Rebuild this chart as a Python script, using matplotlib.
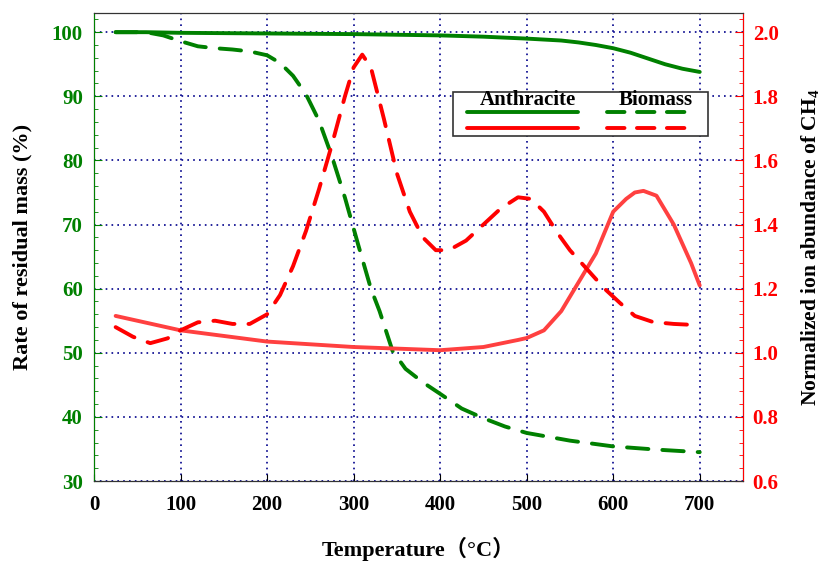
import numpy as np
import matplotlib.pyplot as plt
from matplotlib.lines import Line2D
from matplotlib.patches import Rectangle
from matplotlib.ticker import MultipleLocator

plt.rcParams['font.family'] = ['Liberation Serif', 'Noto Sans CJK SC']
plt.rcParams['mathtext.fontset'] = 'custom'
plt.rcParams['mathtext.rm'] = 'Liberation Serif:bold'
plt.rcParams['mathtext.bf'] = 'Liberation Serif:bold'

GREEN = '#008000'
RED = '#ff0000'
RED_SOLID = '#ff4040'

# residual mass (%)
anth_t = [25, 60, 100, 200, 300, 400, 450, 500, 540, 560, 580, 600, 620, 640, 660, 680, 700]
anth_m = [100, 100, 99.9, 99.8, 99.7, 99.5, 99.3, 99.0, 98.7, 98.4, 98.0, 97.5, 96.8, 95.9, 95.0, 94.3, 93.8]

bio_t = [25, 60, 80, 100, 120, 140, 160, 180, 200, 215, 230, 245, 260, 275, 290, 305, 320, 330, 345, 360,
         380, 400, 425, 450, 475, 500, 550, 600, 650, 700]
bio_m = [100, 100, 99.5, 98.6, 97.8, 97.5, 97.3, 97.0, 96.4, 95.2, 93.2, 90.3, 86.2, 80.6, 74.2, 67.0, 60.0, 56.5,
         50.3, 47.5, 45.4, 43.6, 41.3, 39.8, 38.5, 37.5, 36.3, 35.4, 34.9, 34.5]

# normalized CH4 ion abundance
ach4_t = [25, 100, 200, 300, 400, 450, 490, 500, 520, 540, 560, 580, 600, 615, 625, 635, 645, 650, 660, 670,
          680, 690, 700]
ach4_v = [1.115, 1.07, 1.035, 1.018, 1.008, 1.018, 1.04, 1.046, 1.07, 1.13, 1.22, 1.31, 1.44, 1.48, 1.50, 1.505,
          1.495, 1.49, 1.445, 1.40, 1.34, 1.28, 1.21]

bch4_t = [25, 45, 65, 85, 100, 120, 140, 160, 180, 200, 215, 230, 245, 260, 275, 290, 300, 310, 320, 335,
          350, 365, 380, 395, 410, 430, 450, 470, 490, 505, 520, 535, 550, 570, 590, 608, 625, 646, 670, 700]
bch4_v = [1.08, 1.05, 1.03, 1.045, 1.07, 1.095, 1.10, 1.09, 1.09, 1.12, 1.18, 1.27, 1.38, 1.51, 1.65, 1.80,
          1.89, 1.93, 1.89, 1.73, 1.56, 1.44, 1.36, 1.32, 1.32, 1.35, 1.40, 1.45, 1.485, 1.48, 1.44, 1.376, 1.32,
          1.26, 1.20, 1.155, 1.115, 1.096, 1.09, 1.086]

fig = plt.figure(figsize=(8.26, 5.63), dpi=100)
ax = fig.add_axes([0.1138, 0.1456, 0.7857, 0.8314])
ax2 = ax.twinx()

lw = 2.8
dash = (5.5, 3.6)
ax.plot(anth_t, anth_m, color=GREEN, lw=lw, solid_capstyle='round')
ax.plot(bio_t, bio_m, color=GREEN, lw=lw, dashes=dash, dash_capstyle='round')
ax2.plot(ach4_t, ach4_v, color=RED_SOLID, lw=lw, solid_capstyle='round')
ax2.plot(bch4_t, bch4_v, color=RED, lw=lw, dashes=dash, dash_capstyle='round')

ax.set_xlim(0, 750)
ax.set_ylim(30, 103)
ax2.set_ylim(0.6, 2.06)

ax.xaxis.set_major_locator(MultipleLocator(100))
ax.yaxis.set_major_locator(MultipleLocator(10))
ax.yaxis.set_minor_locator(MultipleLocator(2))
ax2.yaxis.set_major_locator(MultipleLocator(0.2))
ax2.yaxis.set_minor_locator(MultipleLocator(0.04))
ax2.yaxis.set_major_formatter(plt.FormatStrFormatter('%.1f'))

ax.grid(True, which='major', color='#00008b', ls=(0, (1, 2.5)), lw=1.2)

ax.tick_params(axis='x', direction='in', length=5, colors='black', labelsize=15, pad=10)
ax.tick_params(axis='y', which='major', direction='in', length=6, color=GREEN, labelcolor=GREEN,
               labelsize=15, pad=8)
ax.tick_params(axis='y', which='minor', direction='in', length=3, color=GREEN)
ax2.tick_params(axis='y', which='major', direction='in', length=6, color=RED, labelcolor=RED,
                labelsize=15, pad=7)
ax2.tick_params(axis='y', which='minor', direction='in', length=3, color=RED)
for lab in ax.get_xticklabels() + ax.get_yticklabels() + ax2.get_yticklabels():
    lab.set_fontweight('bold')

ax2.spines['left'].set_color(GREEN)
ax2.spines['right'].set_color(RED)
for s in ['top', 'bottom']:
    ax2.spines[s].set_color('#333333')

ax.set_xlabel('Temperature（°C）', fontsize=16, fontweight='bold', labelpad=16)
ax.set_ylabel('Rate of residual mass (%)', fontsize=16, fontweight='bold', labelpad=14)
ax2.set_ylabel('Normalized ion abundance of CH$_\\mathbf{4}$', fontsize=15.5, fontweight='bold', labelpad=15)

# legend box
ax2.add_patch(Rectangle((0.553, 0.737), 0.393, 0.094, transform=ax2.transAxes, fill=True,
                        facecolor='white', edgecolor='#333333', lw=1.2, zorder=5))
ax2.text(0.669, 0.814, 'Anthracite', transform=ax2.transAxes, ha='center', va='center',
         fontsize=15, fontweight='bold', zorder=6)
ax2.text(0.866, 0.814, 'Biomass', transform=ax2.transAxes, ha='center', va='center',
         fontsize=15, fontweight='bold', zorder=6)
ax2.add_line(Line2D([0.575, 0.746], [0.788, 0.788], transform=ax2.transAxes, color=GREEN, lw=lw,
                    solid_capstyle='round', zorder=6))
ax2.add_line(Line2D([0.575, 0.746], [0.754, 0.754], transform=ax2.transAxes, color=RED, lw=lw,
                    solid_capstyle='round', zorder=6))
ax2.add_line(Line2D([0.79, 0.921], [0.788, 0.788], transform=ax2.transAxes, color=GREEN, lw=lw,
                    dashes=(4.5, 3.2), dash_capstyle='round', zorder=6))
ax2.add_line(Line2D([0.79, 0.921], [0.754, 0.754], transform=ax2.transAxes, color=RED, lw=lw,
                    dashes=(4.5, 3.2), dash_capstyle='round', zorder=6))

fig.savefig('out.png', dpi=100)
